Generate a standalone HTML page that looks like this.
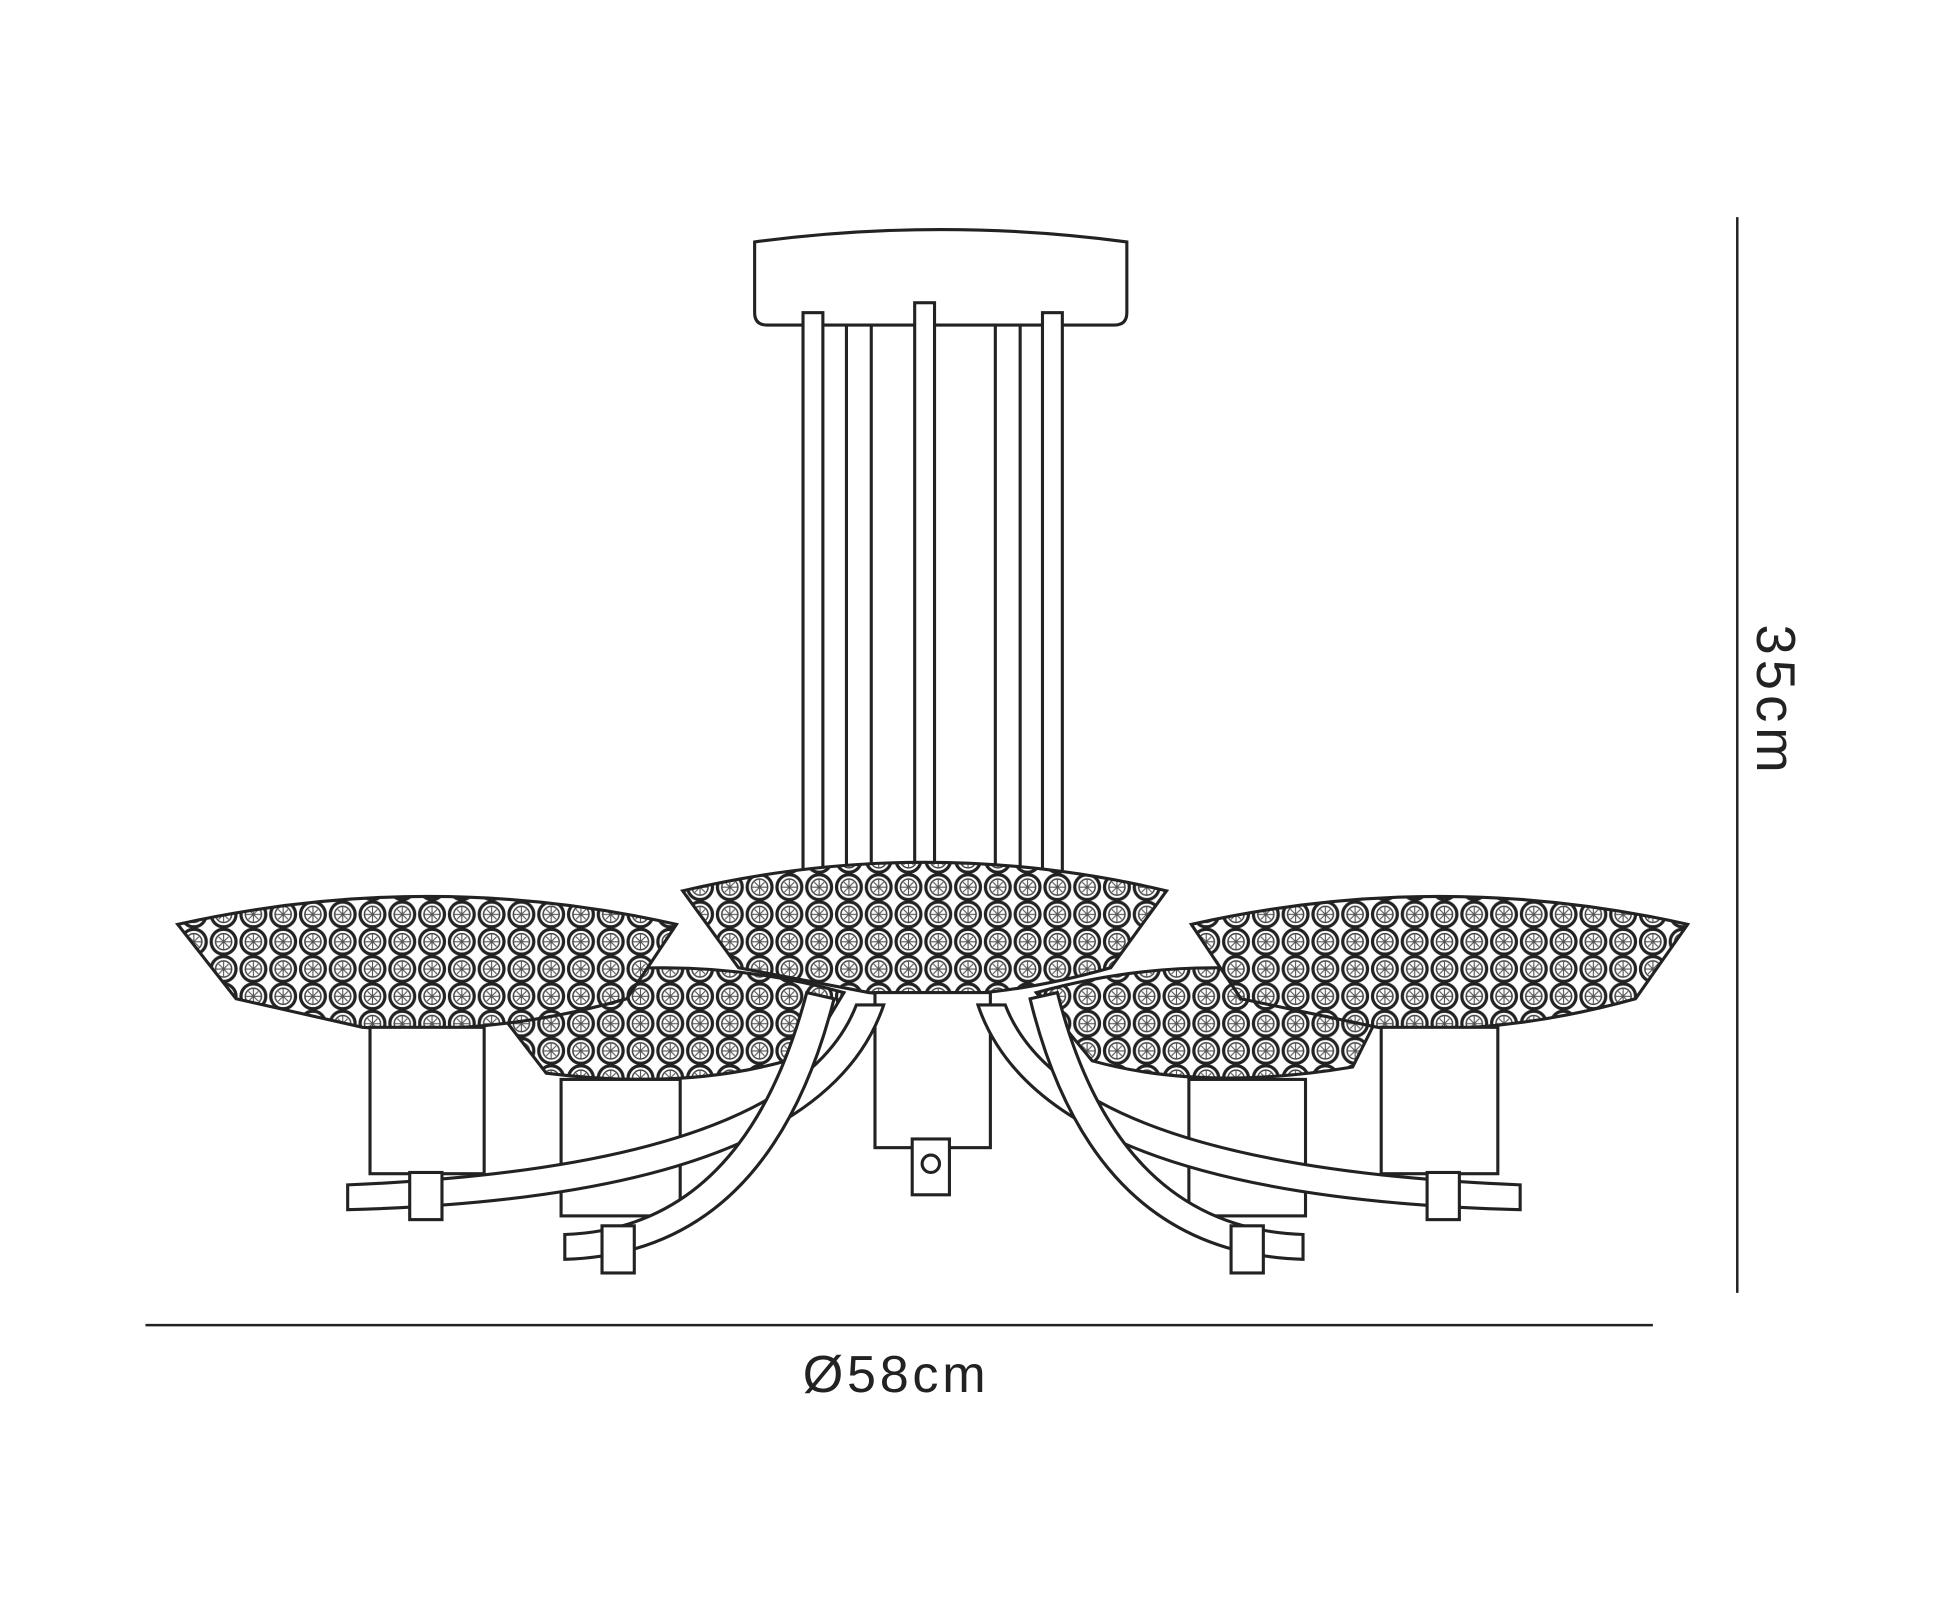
<!DOCTYPE html>
<html><head><meta charset="utf-8"><style>
html,body{margin:0;padding:0;background:#fff;width:1946px;height:1603px;overflow:hidden}
svg{display:block}
</style></head><body>
<svg width="1946" height="1603" viewBox="0 0 1568 1292" xmlns="http://www.w3.org/2000/svg">
<defs>
<pattern id="cir" width="24" height="22" patternUnits="userSpaceOnUse">
<rect width="24" height="22" fill="#fff"/>
<circle cx="12" cy="11" r="10" fill="none" stroke="#222" stroke-width="2.6"/>
<circle cx="12" cy="11" r="6.5" fill="none" stroke="#444" stroke-width="1.2"/>
<path d="M12 5v12M6 11h12M8 7l8 8M16 7l-8 8" stroke="#555" stroke-width="0.9"/>
</pattern>
</defs>
<g fill="#fff" stroke="#222" stroke-width="2.5">
<path d="M608 195 Q758 175 908 195 L908 252 Q908 262 898 262 L618 262 Q608 262 608 252 Z"/>
<rect x="647" y="252" width="16" height="470"/>
<rect x="682" y="262" width="20" height="460"/>
<rect x="737" y="244" width="16" height="470"/>
<rect x="802" y="262" width="20" height="460"/>
<rect x="840" y="252" width="16" height="470"/>
<path d="M390 800 Q535 760 680 800 L650 850 Q560 880 440 865 Z" fill="url(#cir)"/>
<path d="M835 800 Q980 760 1120 800 L1090 860 Q970 880 880 855 Z" fill="url(#cir)"/>
<rect x="452" y="870" width="96" height="110"/>
<rect x="958" y="870" width="94" height="110"/>
<path d="M143 745 Q345 700 545 745 L505 805 Q400 835 292 828 L190 805 Z" fill="url(#cir)"/>
<path d="M960 745 Q1160 700 1360 745 L1318 805 Q1210 835 1110 828 L1000 805 Z" fill="url(#cir)"/>
<path d="M550 718 Q745 672 940 718 L895 780 Q790 810 700 800 L595 780 Z" fill="url(#cir)"/>
<rect x="298" y="828" width="92" height="118"/>
<rect x="1113" y="828" width="94" height="118"/>
<rect x="705" y="800" width="93" height="125"/>
<rect x="735" y="918" width="30" height="45"/>
<circle cx="750" cy="938" r="7"/>
<path d="M690 810 Q640 940 280 955 L280 975 Q660 965 712 810 Z"/>
<path d="M650 800 Q600 990 455 995 L455 1015 Q620 1010 672 805 Z"/>
<path d="M810 810 Q860 940 1225 955 L1225 975 Q840 965 788 810 Z"/>
<path d="M852 800 Q900 990 1050 995 L1050 1015 Q880 1010 830 805 Z"/>
<rect x="330" y="945" width="26" height="38"/>
<rect x="1150" y="945" width="26" height="38"/>
<rect x="485" y="988" width="26" height="38"/>
<rect x="992" y="988" width="26" height="38"/>
<line x1="117" y1="1068" x2="1332" y2="1068" stroke-width="2"/>
<line x1="1400" y1="175" x2="1400" y2="1042" stroke-width="2"/>
</g>
<text x="722" y="1122" font-family="Liberation Sans, sans-serif" font-size="42" letter-spacing="3" fill="#222" text-anchor="middle">Ø58cm</text>
<text transform="translate(1416,565) rotate(90)" font-family="Liberation Sans, sans-serif" font-size="44" letter-spacing="4" fill="#222" text-anchor="middle">35cm</text>
</svg>
</body></html>
